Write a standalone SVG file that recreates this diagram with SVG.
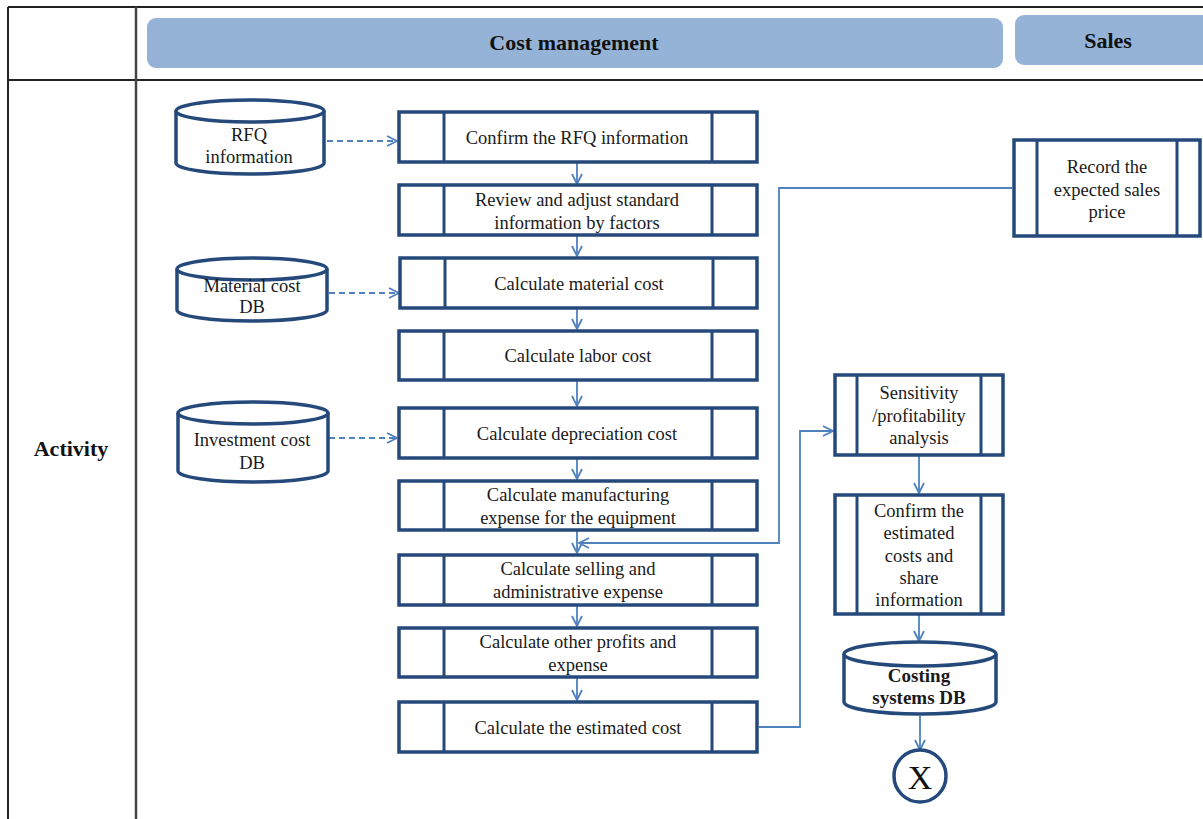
<svg xmlns="http://www.w3.org/2000/svg" width="1203" height="819" viewBox="0 0 1203 819">
  <style>
    .grid { stroke: #222; stroke-width: 2; fill: none; }
    .band { fill: #95B3D7; }
    .hdr { font-family: "Liberation Serif", "Times New Roman", serif; font-weight: bold; font-size: 22px; fill: #111; text-anchor: middle; }
    .box { fill: #fff; stroke: #24497A; stroke-width: 3.5; }
    .div { stroke: #24497A; stroke-width: 3; }
    .lbl { font-family: "Liberation Serif", "Times New Roman", serif; font-size: 18.5px; fill: #1a1a1a; text-anchor: middle; }
    .bold { font-weight: bold; font-size: 19px; }
    .flow { fill: none; stroke: #4F81BD; stroke-width: 1.8; }
    .dash { fill: none; stroke: #4F81BD; stroke-width: 1.8; stroke-dasharray: 6 4; }
  </style>
  <defs>
    <marker id="arr" viewBox="0 0 12 12" refX="11" refY="6" markerWidth="12" markerHeight="12" markerUnits="userSpaceOnUse" orient="auto">
      <path d="M1 1 L11 6 L1 11" fill="none" stroke="#4F81BD" stroke-width="1.8"/>
    </marker>
  </defs>

  <rect width="1203" height="819" fill="#fff"/>

  <!-- table frame -->
  <g id="table">
    <line class="grid" x1="8" y1="7" x2="1203" y2="7"/>
    <line class="grid" x1="8" y1="80" x2="1203" y2="80"/>
    <line class="grid" x1="8" y1="7" x2="8" y2="819"/>
    <line x1="136" y1="7" x2="136" y2="819" stroke="#444" stroke-width="2.5"/>
  </g>

  <!-- lane headers -->
  <g id="lane-cost">
    <rect class="band" x="147" y="18" width="856" height="50" rx="9"/>
    <text class="hdr" x="574" y="50">Cost management</text>
  </g>
  <g id="lane-sales">
    <rect class="band" x="1015" y="15" width="200" height="50" rx="9"/>
    <text class="hdr" x="1108" y="48">Sales</text>
  </g>
  <g id="row-activity">
    <text class="hdr" x="71" y="456">Activity</text>
  </g>

  <!-- connectors -->
  <g id="connectors">
    <line class="dash" x1="327" y1="141" x2="397" y2="141" marker-end="url(#arr)"/>
    <line class="dash" x1="329" y1="293" x2="399" y2="293" marker-end="url(#arr)"/>
    <line class="dash" x1="329" y1="438" x2="397" y2="438" marker-end="url(#arr)"/>

    <line class="flow" x1="577" y1="163" x2="577" y2="184" marker-end="url(#arr)"/>
    <line class="flow" x1="577" y1="236" x2="577" y2="256" marker-end="url(#arr)"/>
    <line class="flow" x1="577" y1="309" x2="577" y2="329" marker-end="url(#arr)"/>
    <line class="flow" x1="577" y1="381" x2="577" y2="406" marker-end="url(#arr)"/>
    <line class="flow" x1="577" y1="459" x2="577" y2="479" marker-end="url(#arr)"/>
    <line class="flow" x1="577" y1="531" x2="577" y2="553" marker-end="url(#arr)"/>
    <line class="flow" x1="577" y1="606" x2="577" y2="626" marker-end="url(#arr)"/>
    <line class="flow" x1="577" y1="678" x2="577" y2="700" marker-end="url(#arr)"/>

    <polyline class="flow" points="1012,188 779,188 779,543 579,543" marker-end="url(#arr)"/>
    <polyline class="flow" points="759,727 800,727 800,431 833,431" marker-end="url(#arr)"/>

    <line class="flow" x1="919" y1="456" x2="919" y2="493" marker-end="url(#arr)"/>
    <line class="flow" x1="919" y1="615" x2="919" y2="641" marker-end="url(#arr)"/>
    <line class="flow" x1="920" y1="716" x2="920" y2="750" marker-end="url(#arr)"/>
  </g>

  <!-- data stores -->
  <g id="db-rfq">
    <path class="box" d="M176 111 V163 A74 11 0 0 0 324 163 V111 A74 11 0 0 0 176 111 Z"/>
    <path class="box" d="M176 111 A74 11 0 0 0 324 111" fill="none"/>
    <text class="lbl" x="249" y="141">RFQ</text>
    <text class="lbl" x="249" y="163">information</text>
  </g>
  <g id="db-material">
    <path class="box" d="M177 269 V310 A75 11 0 0 0 327 310 V269 A75 11 0 0 0 177 269 Z"/>
    <path class="box" d="M177 269 A75 11 0 0 0 327 269" fill="none"/>
    <text class="lbl" x="252" y="292">Material cost</text>
    <text class="lbl" x="252" y="313">DB</text>
  </g>
  <g id="db-investment">
    <path class="box" d="M178 413 V471 A75 11 0 0 0 328 471 V413 A75 11 0 0 0 178 413 Z"/>
    <path class="box" d="M178 413 A75 11 0 0 0 328 413" fill="none"/>
    <text class="lbl" x="252" y="446">Investment cost</text>
    <text class="lbl" x="252" y="469">DB</text>
  </g>

  <!-- main process steps -->
  <g id="step-confirm-rfq">
    <rect class="box" x="399" y="112" width="358" height="50"/>
    <line class="div" x1="444" y1="112" x2="444" y2="162"/><line class="div" x1="712" y1="112" x2="712" y2="162"/>
    <text class="lbl" x="577" y="144">Confirm the RFQ information</text>
  </g>
  <g id="step-review">
    <rect class="box" x="399" y="185" width="358" height="50"/>
    <line class="div" x1="444" y1="185" x2="444" y2="235"/><line class="div" x1="712" y1="185" x2="712" y2="235"/>
    <text class="lbl" x="577" y="206">Review and adjust standard</text>
    <text class="lbl" x="577" y="229">information by factors</text>
  </g>
  <g id="step-material">
    <rect class="box" x="400" y="258" width="357" height="50"/>
    <line class="div" x1="445" y1="258" x2="445" y2="308"/><line class="div" x1="713" y1="258" x2="713" y2="308"/>
    <text class="lbl" x="579" y="290">Calculate material cost</text>
  </g>
  <g id="step-labor">
    <rect class="box" x="399" y="331" width="358" height="49"/>
    <line class="div" x1="444" y1="331" x2="444" y2="380"/><line class="div" x1="712" y1="331" x2="712" y2="380"/>
    <text class="lbl" x="578" y="362">Calculate labor cost</text>
  </g>
  <g id="step-depreciation">
    <rect class="box" x="399" y="408" width="358" height="50"/>
    <line class="div" x1="444" y1="408" x2="444" y2="458"/><line class="div" x1="712" y1="408" x2="712" y2="458"/>
    <text class="lbl" x="577" y="440">Calculate depreciation cost</text>
  </g>
  <g id="step-manufacturing">
    <rect class="box" x="399" y="481" width="358" height="49"/>
    <line class="div" x1="444" y1="481" x2="444" y2="530"/><line class="div" x1="712" y1="481" x2="712" y2="530"/>
    <text class="lbl" x="578" y="501">Calculate manufacturing</text>
    <text class="lbl" x="578" y="524">expense  for the equipment</text>
  </g>
  <g id="step-selling">
    <rect class="box" x="399" y="555" width="358" height="50"/>
    <line class="div" x1="444" y1="555" x2="444" y2="605"/><line class="div" x1="712" y1="555" x2="712" y2="605"/>
    <text class="lbl" x="578" y="575">Calculate selling and</text>
    <text class="lbl" x="578" y="598">administrative expense</text>
  </g>
  <g id="step-other">
    <rect class="box" x="399" y="628" width="358" height="49"/>
    <line class="div" x1="444" y1="628" x2="444" y2="677"/><line class="div" x1="712" y1="628" x2="712" y2="677"/>
    <text class="lbl" x="578" y="648">Calculate other profits and</text>
    <text class="lbl" x="578" y="671">expense</text>
  </g>
  <g id="step-estimated">
    <rect class="box" x="399" y="702" width="358" height="50"/>
    <line class="div" x1="444" y1="702" x2="444" y2="752"/><line class="div" x1="712" y1="702" x2="712" y2="752"/>
    <text class="lbl" x="578" y="734">Calculate the estimated cost</text>
  </g>

  <!-- sales step -->
  <g id="step-sales-price">
    <rect class="box" x="1014" y="140" width="186" height="96"/>
    <line class="div" x1="1037" y1="140" x2="1037" y2="236"/><line class="div" x1="1177" y1="140" x2="1177" y2="236"/>
    <text class="lbl" x="1107" y="173">Record the</text>
    <text class="lbl" x="1107" y="196">expected sales</text>
    <text class="lbl" x="1107" y="218">price</text>
  </g>

  <!-- analysis and wrap-up -->
  <g id="step-sensitivity">
    <rect class="box" x="835" y="375" width="168" height="80"/>
    <line class="div" x1="857" y1="375" x2="857" y2="455"/><line class="div" x1="981" y1="375" x2="981" y2="455"/>
    <text class="lbl" x="919" y="399">Sensitivity</text>
    <text class="lbl" x="919" y="422">/profitability</text>
    <text class="lbl" x="919" y="444">analysis</text>
  </g>
  <g id="step-confirm-costs">
    <rect class="box" x="835" y="495" width="168" height="119"/>
    <line class="div" x1="857" y1="495" x2="857" y2="614"/><line class="div" x1="981" y1="495" x2="981" y2="614"/>
    <text class="lbl" x="919" y="517">Confirm  the</text>
    <text class="lbl" x="919" y="539">estimated</text>
    <text class="lbl" x="919" y="562">costs and</text>
    <text class="lbl" x="919" y="584">share</text>
    <text class="lbl" x="919" y="606">information</text>
  </g>
  <g id="db-costing">
    <path class="box" d="M844 654 V702 A76 12 0 0 0 996 702 V654 A76 12 0 0 0 844 654 Z"/>
    <path class="box" d="M844 654 A76 12 0 0 0 996 654" fill="none"/>
    <text class="lbl bold" x="919" y="682">Costing</text>
    <text class="lbl bold" x="919" y="704">systems DB</text>
  </g>
  <g id="end-x">
    <circle cx="920" cy="776" r="26" fill="#fff" stroke="#24497A" stroke-width="3.5"/>
    <text x="920" y="789" font-family="Liberation Serif, serif" font-size="34" text-anchor="middle" fill="#111">X</text>
  </g>
</svg>
